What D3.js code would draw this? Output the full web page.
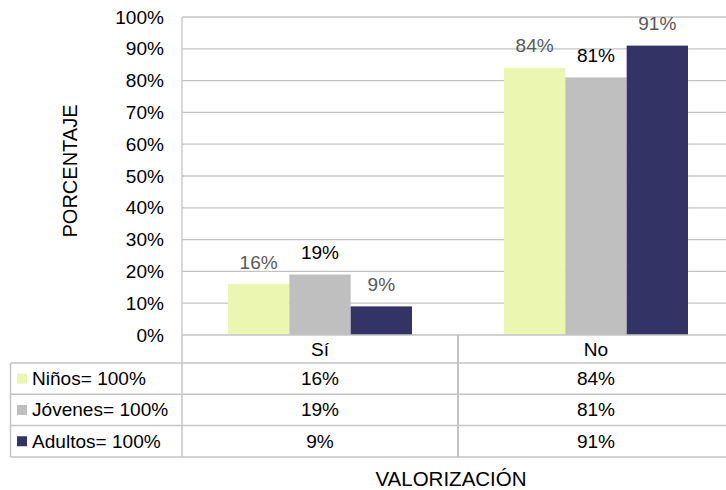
<!DOCTYPE html>
<html>
<head>
<meta charset="utf-8">
<script src="https://cdn.jsdelivr.net/npm/d3@7"></script>
<style>
  body { margin: 0; background: #fff; }
  svg { display: block; font-family: "Liberation Sans", Arial, sans-serif; }
</style>
</head>
<body>
<div id="chart"></div>
<script>
// chart data
const categories = ['Sí', 'No'];
const series = ['Niños= 100%', 'Jóvenes= 100%', 'Adultos= 100%'];
const ninos = [16, 84];
const jovenes = [19, 81];
const adultos = [9, 91];
const yTicks = [0, 10, 20, 30, 40, 50, 60, 70, 80, 90, 100];

const values = [ninos, jovenes, adultos];
const colors = ['#ebf6b0', '#bfbfbf', '#343366'];
const labelColors = ['#595959', '#000', '#595959'];

const width = 726, height = 490;
const plot = { left: 182, right: 734, top: 17, bottom: 335 };
const rowH = 31.3;
const tableLeft = 10.5;
const gridColor = '#c4c4c4';

const svg = d3.select('#chart').append('svg')
  .attr('width', width)
  .attr('height', height);

const y = d3.scaleLinear().domain([0, 100]).range([plot.bottom, plot.top]);
const x0 = d3.scaleBand().domain(categories).range([plot.left, plot.right]);
const x1 = d3.scaleBand().domain(series)
  .range([0, x0.bandwidth()])
  .paddingOuter(0.75)
  .paddingInner(0);

// text helper, original text is a little wider than Liberation Sans
function txt(g, x, yy, s, anchor, size, fill) {
  return g.append('text')
    .attr('transform', `translate(${x},${yy}) scale(1.06,1)`)
    .attr('text-anchor', anchor || 'middle')
    .attr('font-size', size || 18)
    .attr('fill', fill || '#000')
    .text(s);
}

// gridlines
svg.append('g').selectAll('line')
  .data(yTicks.filter(d => d > 0))
  .enter().append('line')
  .attr('x1', plot.left).attr('x2', plot.right)
  .attr('y1', d => y(d)).attr('y2', d => y(d))
  .attr('stroke', gridColor)
  .attr('stroke-width', 1.3);

// y tick labels
const yg = svg.append('g');
yTicks.forEach(t => txt(yg, 164, y(t) + 6.5, t + '%', 'end'));

// bars
const groups = svg.append('g').selectAll('g')
  .data(categories)
  .enter().append('g')
  .attr('transform', d => `translate(${x0(d)},0)`);

groups.selectAll('rect')
  .data((c, ci) => series.map((s, si) => ({ s, si, v: values[si][ci] })))
  .enter().append('rect')
  .attr('x', d => x1(d.s))
  .attr('y', d => y(d.v))
  .attr('width', x1.bandwidth())
  .attr('height', d => y(0) - y(d.v))
  .attr('fill', d => colors[d.si]);

// data labels
categories.forEach((c, ci) => {
  series.forEach((s, si) => {
    const v = values[si][ci];
    txt(svg, x0(c) + x1(s) + x1.bandwidth() / 2, y(v) - 15.5, v + '%', 'middle', 18, labelColors[si]);
  });
});

// left axis line
svg.append('line')
  .attr('x1', plot.left).attr('x2', plot.left)
  .attr('y1', plot.top).attr('y2', plot.bottom)
  .attr('stroke', gridColor).attr('stroke-width', 1.3);

// data table
const table = svg.append('g');
const rowTop = i => plot.bottom + 28 + i * rowH;
const tableBottom = rowTop(series.length);

// horizontal lines
table.append('line')
  .attr('x1', plot.left).attr('x2', plot.right)
  .attr('y1', plot.bottom).attr('y2', plot.bottom)
  .attr('stroke', gridColor).attr('stroke-width', 1.5);
d3.range(series.length + 1).forEach(i => {
  table.append('line')
    .attr('x1', tableLeft).attr('x2', plot.right)
    .attr('y1', rowTop(i)).attr('y2', rowTop(i))
    .attr('stroke', gridColor).attr('stroke-width', 1.5);
});
// vertical lines
table.append('line')
  .attr('x1', tableLeft).attr('x2', tableLeft)
  .attr('y1', rowTop(0)).attr('y2', tableBottom)
  .attr('stroke', gridColor).attr('stroke-width', 1.5);
categories.forEach(c => {
  table.append('line')
    .attr('x1', x0(c)).attr('x2', x0(c))
    .attr('y1', plot.bottom).attr('y2', tableBottom)
    .attr('stroke', gridColor).attr('stroke-width', x0(c) === plot.left ? 1.5 : 2);
});

// header row
categories.forEach(c => {
  txt(table, x0(c) + x0.bandwidth() / 2, (plot.bottom + rowTop(0)) / 2 + 7, c);
});

// series rows
series.forEach((s, si) => {
  const cy = rowTop(si) + rowH / 2;
  table.append('rect')
    .attr('x', 17).attr('y', cy - 5)
    .attr('width', 10).attr('height', 10)
    .attr('fill', colors[si]);
  txt(table, 32, cy + 6.5, s, 'start');
  categories.forEach((c, ci) => {
    txt(table, x0(c) + x0.bandwidth() / 2, cy + 6.5, values[si][ci] + '%');
  });
});

// axis titles
svg.append('text')
  .attr('transform', `translate(77,171) rotate(-90)`)
  .attr('text-anchor', 'middle')
  .attr('font-size', 20)
  .text('PORCENTAJE');

svg.append('text')
  .attr('x', 451).attr('y', 486)
  .attr('text-anchor', 'middle')
  .attr('font-size', 20.5)
  .text('VALORIZACIÓN');
</script>
</body>
</html>
